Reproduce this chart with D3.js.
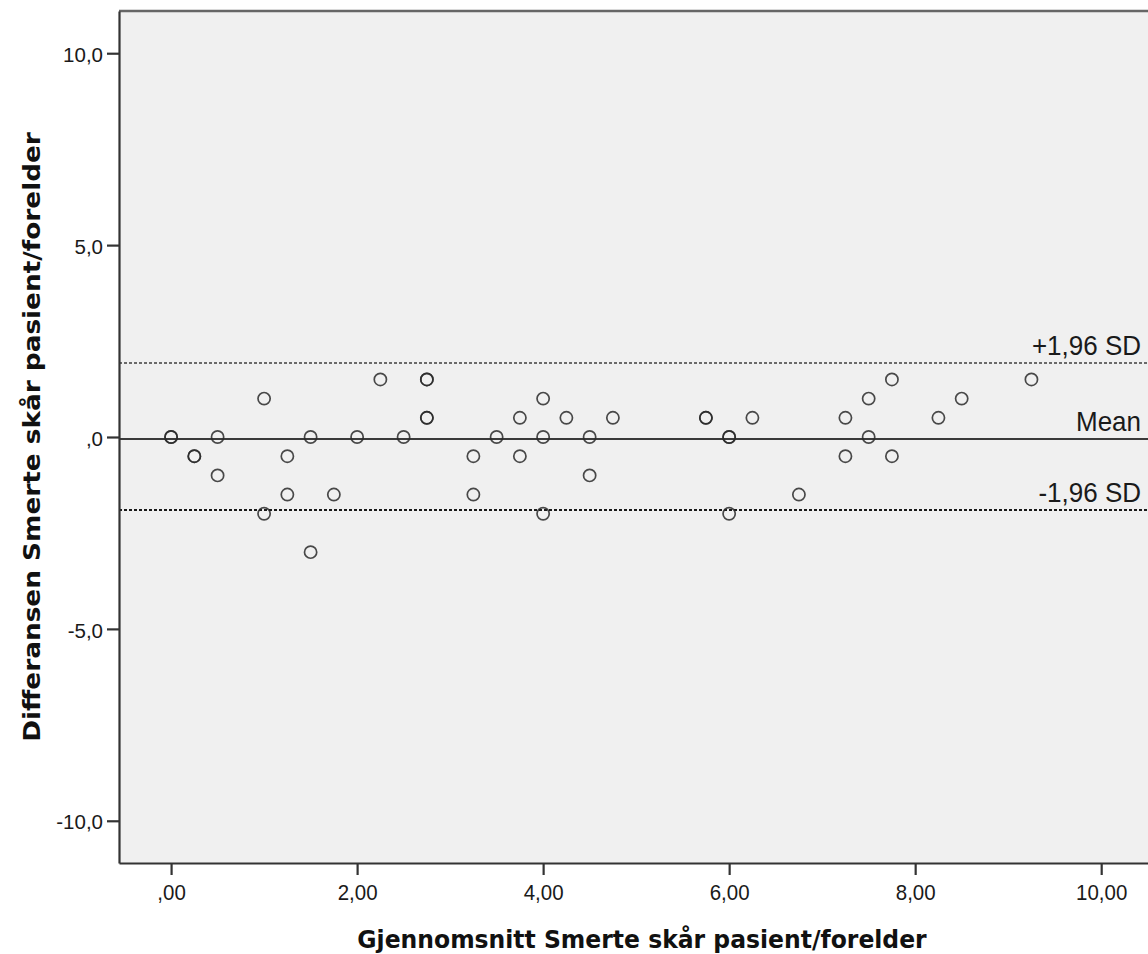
<!DOCTYPE html>
<html>
<head>
<meta charset="utf-8">
<script src="https://cdn.jsdelivr.net/npm/d3@7"></script>
<style>
  html, body { margin: 0; padding: 0; background: #fff; }
  svg { display: block; }
  .tick text { font-family: "Liberation Sans", Arial, sans-serif; font-size: 20.5px; fill: #1a1a1a; }
  .axis-title { font-family: "DejaVu Sans", Verdana, sans-serif; font-weight: bold; font-size: 23.5px; fill: #111; }
  .ref-label { font-family: "Liberation Sans", Arial, sans-serif; font-size: 26px; fill: #1a1a1a; }
</style>
</head>
<body>
<svg id="chart" width="1148" height="954"></svg>
<script>
// Bland-Altman data: mean of the two scores (x) and their difference (y)
const meanScore = [
  0, 0, 0.25, 0.25, 0.5, 0.5, 1, 1, 1.25, 1.25, 1.5, 1.5, 1.75, 2, 2.25, 2.5,
  2.75, 2.75, 2.75, 2.75, 3.25, 3.25, 3.5, 3.75, 3.75, 4, 4, 4, 4.25, 4.5, 4.5, 4.75,
  5.75, 5.75, 6, 6, 6, 6.25, 6.75, 7.25, 7.25, 7.5, 7.5, 7.75, 7.75, 8.25, 8.5, 9.25
];
const diffScore = [
  0, 0, -0.5, -0.5, 0, -1, 1, -2, -0.5, -1.5, 0, -3, -1.5, 0, 1.5, 0,
  1.5, 1.5, 0.5, 0.5, -0.5, -1.5, 0, 0.5, -0.5, 1, 0, -2, 0.5, 0, -1, 0.5,
  0.5, 0.5, 0, 0, -2, 0.5, -1.5, 0.5, -0.5, 1, 0, 1.5, -0.5, 0.5, 1, 1.5
];

// reference lines: +1.96 SD, mean, -1.96 SD
const refValues = [1.92, -0.05, -1.90];
const refLabels = ["+1,96 SD", "Mean", "-1,96 SD"];

const xTicks = [0, 2, 4, 6, 8, 10];
const yTicks = [-10, -5, 0, 5, 10];
const xTitle = "Gjennomsnitt Smerte skår pasient/forelder";
const yTitle = "Differansen Smerte skår pasient/forelder";

const points = meanScore.map((m, i) => ({ m: m, d: diffScore[i] }));

const svg = d3.select("#chart");
const plot = { left: 119, top: 11, right: 1157, bottom: 863 };

const x = d3.scaleLinear().domain([-0.56, 10.6]).range([plot.left, plot.right]);
const y = d3.scaleLinear().domain([-11.1, 11.1]).range([plot.bottom, plot.top]);

// comma decimals, plain hyphen minus, no leading zero (SPSS style)
const loc = d3.formatLocale({ decimal: ",", thousands: " ", grouping: [3], currency: ["", ""], minus: "-" });
const fmtX = v => loc.format(".2f")(v).replace(/^(-?)0,/, "$1,");
const fmtY = v => loc.format(".1f")(v).replace(/^(-?)0,/, "$1,");

// plot background
svg.append("rect")
  .attr("x", plot.left).attr("y", plot.top)
  .attr("width", plot.right - plot.left).attr("height", plot.bottom - plot.top)
  .attr("fill", "#f0f0f0");

svg.append("line")
  .attr("x1", plot.left).attr("x2", plot.right)
  .attr("y1", plot.top).attr("y2", plot.top)
  .attr("stroke", "#666").attr("stroke-width", 2.5);

// reference lines
const refStyle = [
  { stroke: "#6a6a6a", dash: "3,2", width: 2 },
  { stroke: "#3a3a3a", dash: null, width: 2 },
  { stroke: "#1a1a1a", dash: "3,2", width: 2 }
];
refValues.forEach((v, i) => {
  const yy = Math.round(y(v));
  svg.append("line")
    .attr("x1", plot.left).attr("x2", plot.right)
    .attr("y1", yy).attr("y2", yy)
    .attr("stroke", refStyle[i].stroke)
    .attr("stroke-width", refStyle[i].width)
    .attr("stroke-dasharray", refStyle[i].dash)
    .attr("shape-rendering", "crispEdges");

  svg.append("text")
    .attr("class", "ref-label")
    .attr("text-anchor", "end")
    .attr("transform", `translate(1141,${yy - 8}) scale(1,1.08)`)
    .text(refLabels[i]);
});

// points
svg.append("g")
  .selectAll("circle")
  .data(points)
  .join("circle")
  .attr("cx", d => x(d.m))
  .attr("cy", d => y(d.d))
  .attr("r", 6.1)
  .attr("fill", "none")
  .attr("stroke", "#2a2a2a")
  .attr("stroke-opacity", 0.85)
  .attr("stroke-width", 1.7);

// axes
const xAxis = svg.append("g")
  .attr("transform", `translate(0,${plot.bottom})`)
  .call(d3.axisBottom(x).tickValues(xTicks).tickFormat(fmtX).tickSize(12).tickSizeOuter(0).tickPadding(8));

const yAxis = svg.append("g")
  .attr("transform", `translate(${plot.left},0)`)
  .call(d3.axisLeft(y).tickValues(yTicks).tickFormat(fmtY).tickSize(12).tickSizeOuter(0).tickPadding(4));

[xAxis, yAxis].forEach(g => {
  g.select(".domain").attr("stroke", "#333").attr("stroke-width", 2.2);
  g.selectAll(".tick line").attr("stroke", "#333").attr("stroke-width", 2.2);
});
xAxis.selectAll(".tick text").attr("transform", "scale(1,1.1)").attr("dy", "0.65em");
yAxis.selectAll(".tick text").attr("dy", "0.4em");

// axis titles
svg.append("text")
  .attr("class", "axis-title")
  .attr("text-anchor", "middle")
  .attr("transform", "translate(642,948) scale(1,1.08)")
  .text(xTitle);

svg.append("text")
  .attr("class", "axis-title")
  .attr("text-anchor", "middle")
  .attr("transform", "translate(40,437) scale(1,1.12) rotate(-90)")
  .text(yTitle);
</script>
</body>
</html>
